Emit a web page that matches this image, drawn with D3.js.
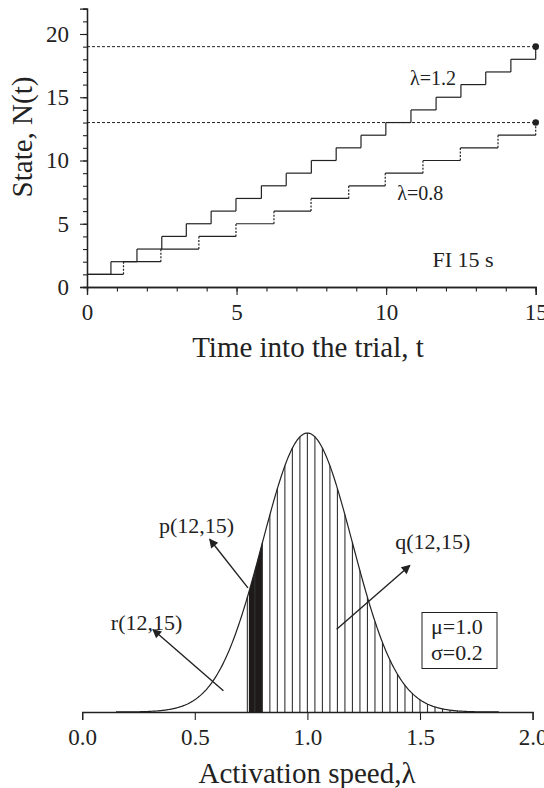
<!DOCTYPE html>
<html>
<head>
<meta charset="utf-8">
<script src="https://cdn.jsdelivr.net/npm/d3@7"></script>
<style>
  html, body { margin: 0; padding: 0; background: #fff; }
  svg { display: block; font-family: "Liberation Serif", "Times New Roman", serif; }
</style>
</head>
<body>
<svg id="chart" width="544" height="788"></svg>
<script>
// ---------------- Data: top panel ----------------
// jump times of the state counter N(t) (each jump raises N by 1, starting from N=1)
const jumpsFast = [0.80, 1.67, 2.50, 3.32, 4.15, 4.98, 5.83, 6.66, 7.50, 8.33, 9.16, 9.99, 10.83, 11.67, 12.50, 13.33, 14.17, 15.0]; // λ=1.2
const jumpsSlow = [1.22, 2.47, 3.74, 4.98, 6.25, 7.49, 8.75, 9.97, 11.23, 12.48, 13.74, 15.0]; // λ=0.8
const startState = 1;
const thresholds = [19, 13];          // dashed reference levels (end states)
const topXTicks = [0, 5, 10, 15];
const topYTicks = [0, 5, 10, 15, 20];
const topLabels = [
  { text: "λ=1.2", t: 10.8, n: 16.0, size: 20 },
  { text: "λ=0.8", t: 10.37, n: 6.9, size: 20 },
  { text: "FI 15 s", t: 11.55, n: 1.55, size: 22 }
];

// ---------------- Data: bottom panel ----------------
const mu = [1.0];
const sigma = [0.2];
const botXTicks = [0.0, 0.5, 1.0, 1.5, 2.0];
const blackBand = [0.74, 0.80];       // p(12,15) region
const hatchStart = [0.7333];          // left edge of hatched q region
const hatchStep = 1 / 30;
const arrows = [
  { name: "p(12,15)", from: [0.736, 0.887], to: [0.566, 1.235], label: [0.508, 1.280] },
  { name: "r(12,15)", from: [0.627, 0.152], to: [0.314, 0.590], label: [0.286, 0.586] },
  { name: "q(12,15)", from: [1.130, 0.591], to: [1.455, 1.048], label: [1.557, 1.165] }
];
const paramText = ["μ=1.0", "σ=0.2"];

const svg = d3.select("#chart");
const ink = "#222";

// ================= TOP PANEL =================
const xT = d3.scaleLinear().domain([0, 15]).range([87, 535.7]);
const yT = d3.scaleLinear().domain([0, 22]).range([287, 8.7]);
const gT = svg.append("g");

const xAxisT = d3.axisBottom(xT).tickValues(topXTicks).tickFormat(d3.format("d")).tickSize(8).tickPadding(9);
const xMinorT = d3.axisBottom(xT).tickValues(d3.range(0, 16)).tickFormat("").tickSize(4.5);
const yAxisT = d3.axisLeft(yT).tickValues(topYTicks).tickFormat(d3.format("d")).tickSize(7).tickPadding(11);
const yMinorT = d3.axisLeft(yT).tickValues(d3.range(0, 23)).tickFormat("").tickSize(4);

function styleAxis(g, fs) {
  g.select(".domain").attr("stroke", ink).attr("stroke-width", 1.3);
  g.selectAll(".tick line").attr("stroke", ink).attr("stroke-width", 1.1);
  g.selectAll(".tick text").attr("fill", ink).style("font-size", fs + "px").style("font-family", "Liberation Serif");
}
gT.append("g").attr("transform", `translate(0,${yT(0)})`).call(xMinorT).call(g => styleAxis(g, 23));
gT.append("g").attr("transform", `translate(0,${yT(0)})`).call(xAxisT).call(g => styleAxis(g, 23));
gT.append("g").attr("transform", `translate(${xT(0)},0)`).call(yMinorT).call(g => styleAxis(g, 23));
gT.append("g").attr("transform", `translate(${xT(0)},0)`).call(yAxisT).call(g => styleAxis(g, 23));

// dashed threshold lines + end dots
thresholds.forEach(v => {
  gT.append("line")
    .attr("x1", xT(0)).attr("x2", xT(15)).attr("y1", yT(v)).attr("y2", yT(v))
    .attr("stroke", ink).attr("stroke-width", 1).attr("stroke-dasharray", "3,2");
  gT.append("circle").attr("cx", xT(15)).attr("cy", yT(v)).attr("r", 3.3).attr("fill", ink);
});

// step series
function stepSegments(jumps) {
  const horiz = [], vert = [];
  let t0 = 0, n = startState;
  jumps.forEach(tj => {
    horiz.push({ x1: t0, x2: tj, y: n });
    vert.push({ x: tj, y1: n, y2: n + 1 });
    t0 = tj; n += 1;
  });
  return { horiz, vert };
}
function drawSteps(jumps, dashedRisers) {
  const s = stepSegments(jumps);
  gT.append("g").selectAll("line").data(s.horiz).join("line")
    .attr("x1", d => xT(d.x1)).attr("x2", d => xT(d.x2))
    .attr("y1", d => yT(d.y)).attr("y2", d => yT(d.y))
    .attr("stroke", ink).attr("stroke-width", 1.2);
  gT.append("g").selectAll("line").data(s.vert).join("line")
    .attr("x1", d => xT(d.x)).attr("x2", d => xT(d.x))
    .attr("y1", d => yT(d.y1)).attr("y2", d => yT(d.y2))
    .attr("stroke", ink).attr("stroke-width", 1.2)
    .attr("stroke-dasharray", dashedRisers ? "2,1.5" : null);
}
drawSteps(jumpsSlow, true);
drawSteps(jumpsFast, false);

gT.selectAll("text.lbl").data(topLabels).join("text").attr("class", "lbl")
  .attr("x", d => xT(d.t)).attr("y", d => yT(d.n))
  .attr("fill", ink).style("font-size", d => d.size + "px").text(d => d.text);

// axis titles
gT.append("text").attr("x", 308).attr("y", 357).attr("text-anchor", "middle")
  .attr("fill", ink).style("font-size", "29px").text("Time into the trial, t");
gT.append("text").attr("transform", "translate(32,137) rotate(-90)").attr("text-anchor", "middle")
  .attr("fill", ink).style("font-size", "29px").text("State, N(t)");

// ================= BOTTOM PANEL =================
const pdf = l => Math.exp(-0.5 * Math.pow((l - mu[0]) / sigma[0], 2)) / (sigma[0] * Math.sqrt(2 * Math.PI));
const peak = pdf(mu[0]);
const xB = d3.scaleLinear().domain([0, 2]).range([82.2, 532.6]);
const yB = d3.scaleLinear().domain([0, peak]).range([712, 433]);
const gB = svg.append("g");

const bandPts = d3.range(blackBand[0], blackBand[1] + 1e-9, 0.002);
bandPts.push(blackBand[1]);
gB.append("path")
  .attr("d", d3.area().x(d => xB(d)).y0(yB(0)).y1(d => yB(pdf(d)))(bandPts))
  .attr("fill", "#1e1a1a");

const hatch = d3.range(hatchStart[0], 1.78, hatchStep);
gB.append("g").selectAll("line").data(hatch).join("line")
  .attr("x1", d => xB(d)).attr("x2", d => xB(d))
  .attr("y1", yB(0)).attr("y2", d => yB(pdf(d)))
  .attr("stroke", "#333").attr("stroke-width", 1.1);

const curvePts = d3.range(0.15, 1.85, 0.005);
gB.append("path")
  .attr("d", d3.line().x(d => xB(d)).y(d => yB(pdf(d)))(curvePts))
  .attr("fill", "none").attr("stroke", ink).attr("stroke-width", 1.2);

const xAxisB = d3.axisBottom(xB).tickValues(botXTicks).tickFormat(d3.format(".1f")).tickSize(8).tickPadding(9);
gB.append("g").attr("transform", `translate(0,${yB(0)})`).call(xAxisB).call(g => styleAxis(g, 23));

const defs = svg.append("defs");
defs.append("marker").attr("id", "ah").attr("viewBox", "0 0 10 10").attr("refX", 9).attr("refY", 5)
  .attr("markerWidth", 12).attr("markerHeight", 9).attr("markerUnits", "userSpaceOnUse").attr("orient", "auto")
  .append("path").attr("d", "M0,0 L10,5 L0,10 z").attr("fill", ink);
gB.append("g").selectAll("line").data(arrows).join("line")
  .attr("x1", d => xB(d.from[0])).attr("y1", d => yB(d.from[1]))
  .attr("x2", d => xB(d.to[0])).attr("y2", d => yB(d.to[1]))
  .attr("stroke", ink).attr("stroke-width", 1.4).attr("marker-end", "url(#ah)");
gB.append("g").selectAll("text").data(arrows).join("text")
  .attr("x", d => xB(d.label[0])).attr("y", d => yB(d.label[1]))
  .attr("text-anchor", "middle").attr("fill", ink).style("font-size", "22px").text(d => d.name);

gB.append("rect").attr("x", 422).attr("y", 612.5).attr("width", 75).attr("height", 56)
  .attr("fill", "#fff").attr("stroke", ink).attr("stroke-width", 1);
gB.selectAll("text.par").data(paramText).join("text").attr("class", "par")
  .attr("x", 431).attr("y", (d, i) => 634 + i * 26)
  .attr("fill", ink).style("font-size", "22px").text(d => d);

gB.append("text").attr("x", 307).attr("y", 783).attr("text-anchor", "middle")
  .attr("fill", ink).style("font-size", "29px").text("Activation speed,λ");
</script>
</body>
</html>
